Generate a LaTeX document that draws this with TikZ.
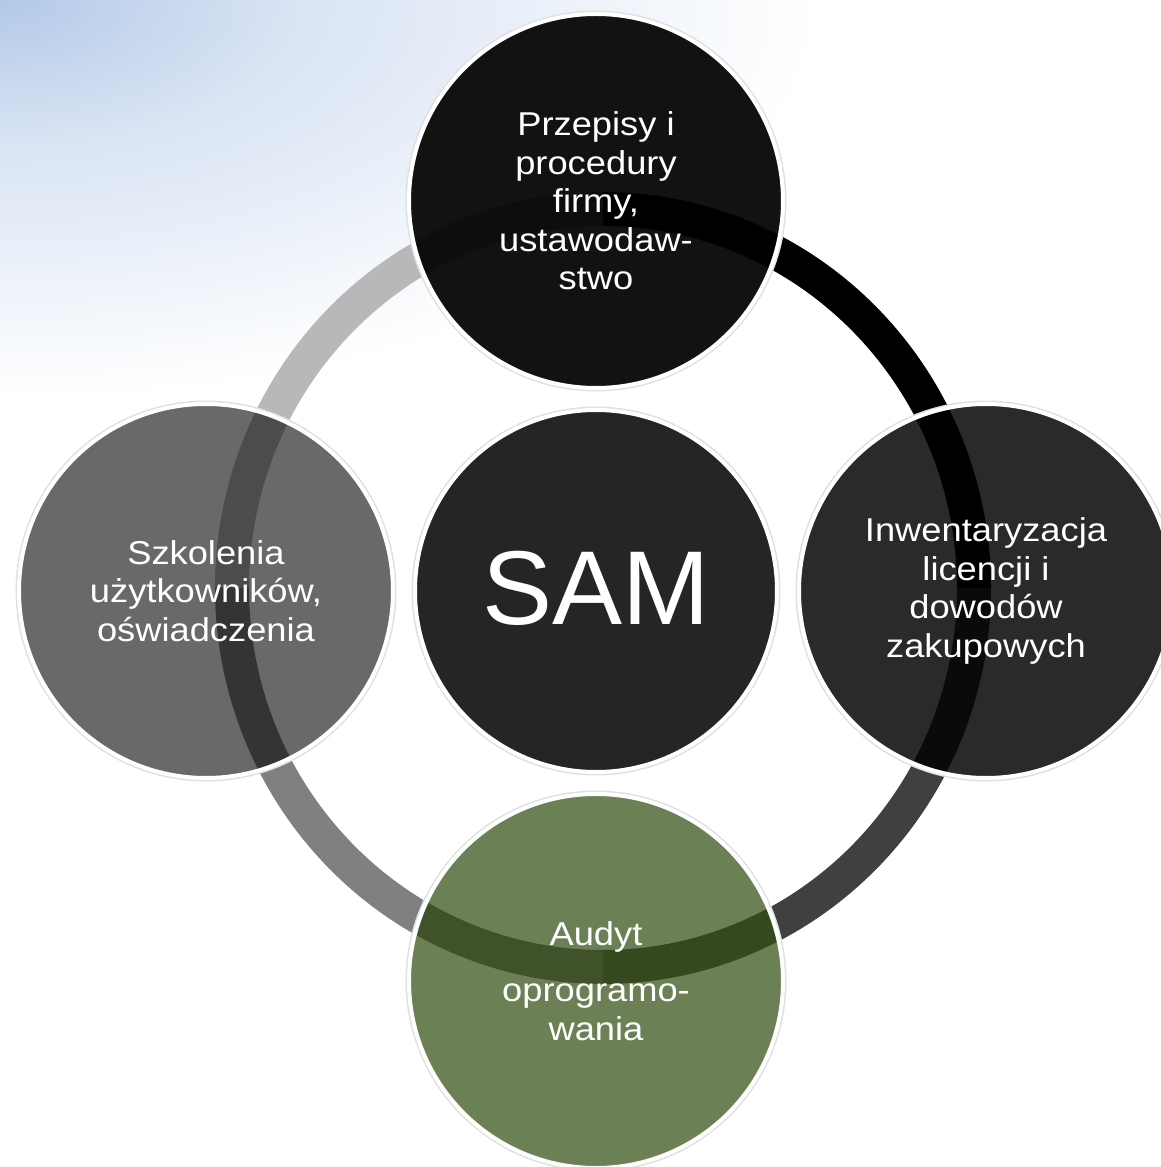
\documentclass[tikz,border=0pt]{standalone}
\usepackage{fontspec}
\setmainfont{Liberation Sans}
\newfontfamily\labelfont{Liberation Sans}[FakeStretch=1.1]
\usetikzlibrary{positioning,calc,backgrounds}

\definecolor{sky}{HTML}{B3C9E8}
\definecolor{fillSAM}{HTML}{252525}
\definecolor{fillP}{HTML}{121212}
\definecolor{fillI}{HTML}{2A2A2A}
\definecolor{fillS}{HTML}{696969}
\definecolor{fillA}{HTML}{6B8155}
\definecolor{segK}{HTML}{000000}
\definecolor{segL}{HTML}{B8B8B8}
\definecolor{segM}{HTML}{808080}
\definecolor{segD}{HTML}{404040}
\definecolor{bandPK}{HTML}{000000}
\definecolor{bandPL}{HTML}{0D0D0D}
\definecolor{bandSL}{HTML}{4C4C4C}
\definecolor{bandSM}{HTML}{343434}
\definecolor{bandAM}{HTML}{3F5229}
\definecolor{bandAD}{HTML}{344A1E}
\definecolor{bandID}{HTML}{0A0A0A}
\definecolor{bandIK}{HTML}{000000}

\pgfdeclareradialshading{skyfade}{\pgfpoint{0bp}{0bp}}{color(0bp)=(sky); color(9bp)=(sky!50!white); color(25bp)=(white); color(50bp)=(white)}

\begin{document}
\begin{tikzpicture}[
        x=1pt, y=1pt,
        node distance=18pt,
        hub/.style={circle, draw=white, line width=4pt, minimum size=362pt, inner sep=0pt, text=white, font=\fontsize{105}{110}\selectfont, preaction={draw=black!12, line width=7pt}},
        bubble/.style={hub, minimum size=374pt, align=center, font=\labelfont\fontsize{33}{38.5}\selectfont},
        ring/.style={line width=34pt},
        band/.style n args={3}{path picture={
            \clip (path picture bounding box.center) circle (185);
            \draw[ring, #2] ($(R)+(#1:371pt and 379pt)$) arc[start angle=#1, delta angle=-40, x radius=371pt, y radius=379pt];
            \draw[ring, #3] ($(R)+(#1:371pt and 379pt)$) arc[start angle=#1, delta angle=40, x radius=371pt, y radius=379pt];
        }}
    ]

        \useasboundingbox (-596,-576) rectangle (564,591);

        \node[hub, fill=fillSAM] (SAM) {\raisebox{7pt}{SAM}};
        \coordinate (R) at ($(SAM.center)+(7,3)$);

        \node[bubble, fill=fillP, band={90}{bandPK}{bandPL}, above=of SAM] (P) {Przepisy i\\procedury\\firmy,\\ustawodaw-\\stwo};
        \node[bubble, fill=fillI, band={360}{bandID}{bandIK}, right=of SAM] (I) {Inwentaryzacja\\licencji i\\dowodów\\zakupowych};
        \node[bubble, fill=fillA, band={270}{bandAM}{bandAD}, below=of SAM] (A) {Audyt\\[18pt]oprogramo-\\wania};
        \node[bubble, fill=fillS, band={180}{bandSL}{bandSM}, left=of SAM] (S) {Szkolenia\\użytkowników,\\oświadczenia};

        % sky and ring behind the circles
        \begin{scope}[on background layer]
            \clip (-596,-576) rectangle (564,591);
            \shade[shading=skyfade] (-596,591) ellipse (820 and 400);
            \foreach \a/\c in {0/segK, 90/segL, 180/segM, 270/segD}
                \draw[ring, \c] ($(R)+(\a:371pt and 379pt)$) arc[start angle=\a, delta angle=90, x radius=371pt, y radius=379pt];
        \end{scope}
    \end{tikzpicture}
\end{document}
